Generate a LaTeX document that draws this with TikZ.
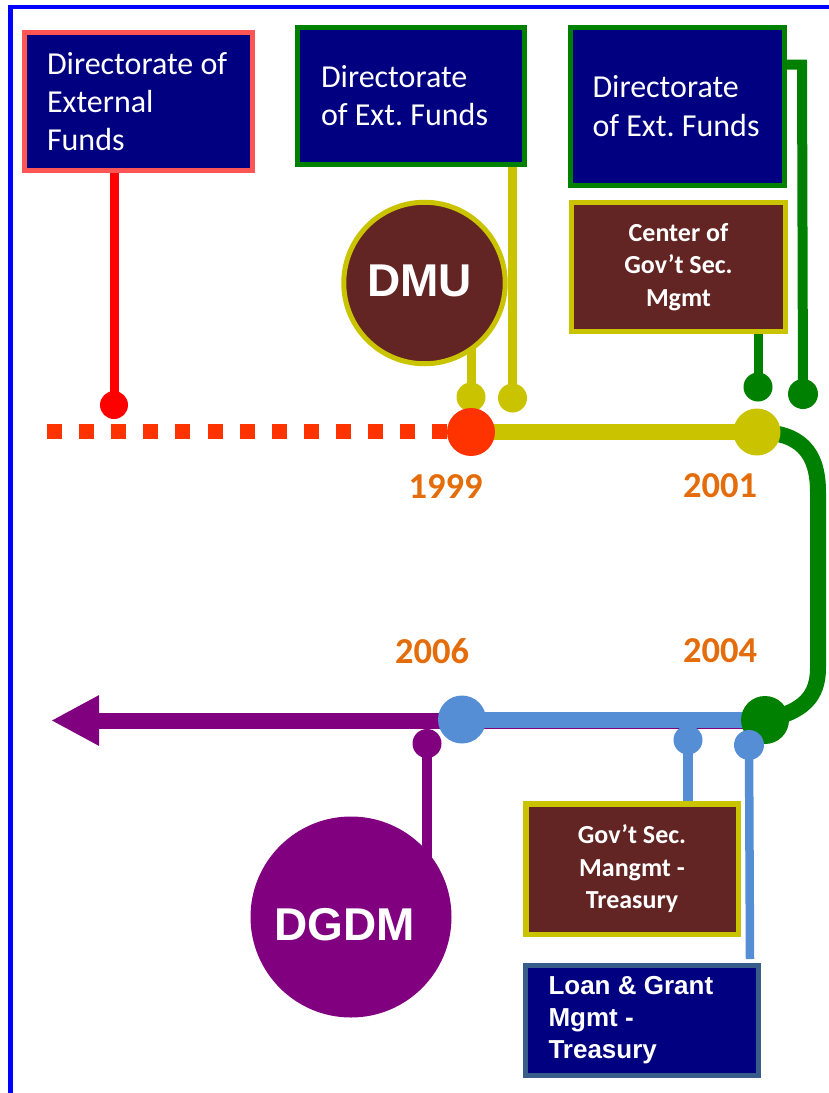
\documentclass[tikz,border=0pt]{standalone}
\usepackage{fontspec}
\setmainfont{Carlito}
\newfontfamily\arialf{Liberation Sans}
\usetikzlibrary{arrows.meta,backgrounds}
\definecolor{navy}{RGB}{0,0,128}
\definecolor{lightred}{RGB}{255,85,85}
\definecolor{pureRed}{RGB}{255,0,0}
\definecolor{redorange}{RGB}{255,51,0}
\definecolor{olivey}{RGB}{202,196,0}
\definecolor{darkgreen}{RGB}{0,128,0}
\definecolor{brownbox}{RGB}{99,37,35}
\definecolor{skyblue}{RGB}{85,142,213}
\definecolor{purp}{RGB}{128,0,128}
\definecolor{steelb}{RGB}{56,93,138}
\definecolor{yearorange}{RGB}{228,108,10}
\definecolor{frameblue}{RGB}{0,0,255}
\frenchspacing
\tikzset{
  navybox/.style={draw, fill=navy, text=white, line width=5pt, align=flush left,
    font=\fontsize{32}{38}\selectfont, inner ysep=0pt},
  brownbox/.style={draw=olivey, fill=brownbox, text=white, line width=5pt, align=center,
    font=\fontsize{26}{32.5}\selectfont\bfseries, inner ysep=0pt},
  tdot/.style={circle, inner sep=0pt, minimum size=#1},
  yearlbl/.style={text=yearorange, font=\fontsize{36.5}{40}\selectfont\bfseries, inner sep=0pt},
  stem/.style={line width=9pt}
}
\begin{document}
\begin{tikzpicture}[x=1pt,y=-1pt]
\useasboundingbox (0,0) rectangle (828,1093);
% frame
\draw[frameblue, line width=4.5pt] (10.5,1110) -- (10.5,7) -- (840,7);

% boxes
\node[navybox, draw=lightred, minimum width=228pt, minimum height=138pt, text width=183pt, inner xsep=22.5pt]
  (box1) at (138.5,101.5) {\mbox{Directorate of}\\\mbox{External}\\\mbox{Funds}};
\node[navybox, draw=darkgreen, minimum width=227pt, minimum height=137pt, text width=180pt, inner xsep=23.5pt]
  (box2) at (411,96) {\mbox{Directorate}\\\mbox{of Ext. Funds}};
\node[navybox, draw=darkgreen, minimum width=214pt, minimum height=158pt, text width=170pt, inner xsep=22pt,
  font=\fontsize{32}{39}\selectfont]
  (box3) at (677.5,106.5) {\mbox{Directorate}\\\mbox{of Ext. Funds}};
\node[brownbox, minimum width=214pt, minimum height=129pt]
  (box4) at (678.5,267) {Center of\\Gov’t Sec.\\Mgmt};
\node[brownbox, line width=5.5pt, minimum width=212.5pt, minimum height=130.5pt]
  (box5) at (632,869) {Gov’t Sec.\\Mangmt -\\Treasury};
\node[navybox, draw=steelb, minimum width=233pt, minimum height=110pt, text width=187pt, inner xsep=23pt,
  font=\arialf\fontsize{26}{32}\selectfont\bfseries]
  (box6) at (642,1020.5) {\mbox{Loan \& Grant}\\\mbox{Mgmt -}\\\mbox{Treasury}};

% circles
\node[circle, draw=olivey, line width=5pt, fill=brownbox, minimum size=161.5pt, inner sep=0pt,
  label={[text=white, font=\arialf\fontsize{46}{50}\selectfont\bfseries, xshift=-5pt, yshift=2pt]center:DMU}]
  (dmu) at (424.5,283) {};
\node[circle, fill=purp, minimum size=201pt, inner sep=0pt,
  label={[text=white, font=\arialf\fontsize{46}{50}\selectfont\bfseries, xshift=-6pt, yshift=-8pt]center:DGDM}]
  (dgdm) at (351,917) {};

% small dots
\node[tdot=28pt, fill=pureRed] (reddot) at (114,405) {};
\node[tdot=29pt, fill=olivey] (ydot1) at (471,397) {};
\node[tdot=29pt, fill=olivey] (ydot2) at (512.5,398) {};
\node[tdot=29pt, fill=darkgreen] (gdot1) at (758,387) {};
\node[tdot=30pt, fill=darkgreen] (gdot2) at (803,394) {};
\node[tdot=29pt, fill=purp] (pdot) at (427,743.5) {};
\node[tdot=29pt, fill=skyblue] (bdot1) at (688,740) {};

% big timeline dots
\node[tdot=48pt, fill=redorange] (d1999) at (471,432) {};
\node[tdot=47pt, fill=olivey] (d2001) at (757,432) {};
\node[tdot=48pt, fill=skyblue] (d2006) at (462,719.5) {};
\node[tdot=48pt, fill=darkgreen] (d2004) at (765,720) {};
\node[tdot=30pt, fill=skyblue] (bdot2) at (749,745) {};

% year labels
\node[yearlbl] (y1999) at (445.5,487) {1999};
\node[yearlbl] (y2001) at (720,486) {2001};
\node[yearlbl] (y2006) at (432,651) {2006};
\node[yearlbl] (y2004) at (720,651) {2004};

\coordinate (gel) at (802,64.5);
\coordinate (tip) at (51,720.5);
\coordinate (dotstart) at (47,431.5);
\coordinate (dotend) at (448,431.5);
\coordinate (b2end) at (750,959);

\begin{pgfonlayer}{background}
  % green curve 2001 -> 2004
  \draw[darkgreen, line width=16pt] (d2001.center) .. controls (800,432) and (818,452) .. (818,492)
     -- (818,668) .. controls (818,696) and (804,712) .. (d2004.center);
  % red dotted
  \draw[redorange, line width=15pt, dash pattern=on 15pt off 17.1pt] (dotstart) -- (dotend);
  % yellow bar
  \draw[olivey, line width=16pt] (d1999.center) -- (d2001.center);
  % purple arrow
  \draw[purp, line width=16pt, -{Triangle[length=48pt,width=47pt]}] ([yshift=-0.5pt]d2004.center) -- (tip);
  % blue bar
  \draw[skyblue, line width=16pt] (d2006.center) -- ([yshift=0.5pt]d2004.center);
  % stems
  \draw[pureRed, stem] (reddot.center) -- (reddot |- box1.center);
  \draw[olivey, stem] (ydot1.center) -- (ydot1 |- dmu.center);
  \draw[olivey, stem] (ydot2.center) -- (ydot2 |- box2.center);
  \draw[darkgreen, stem] (gdot1.center) -- (gdot1 |- box4.center);
  \draw[darkgreen, line width=10pt] (box3.center |- gel) -- (gel) -- (gdot2.center);
  \draw[purp, line width=9.5pt] (pdot.center) -- (pdot |- dgdm.center);
  \draw[skyblue, line width=10pt] (bdot1.center) -- (bdot1 |- box5.center);
  \draw[skyblue, line width=8.5pt] (bdot2.center) -- (b2end);
\end{pgfonlayer}
\end{tikzpicture}
\end{document}
